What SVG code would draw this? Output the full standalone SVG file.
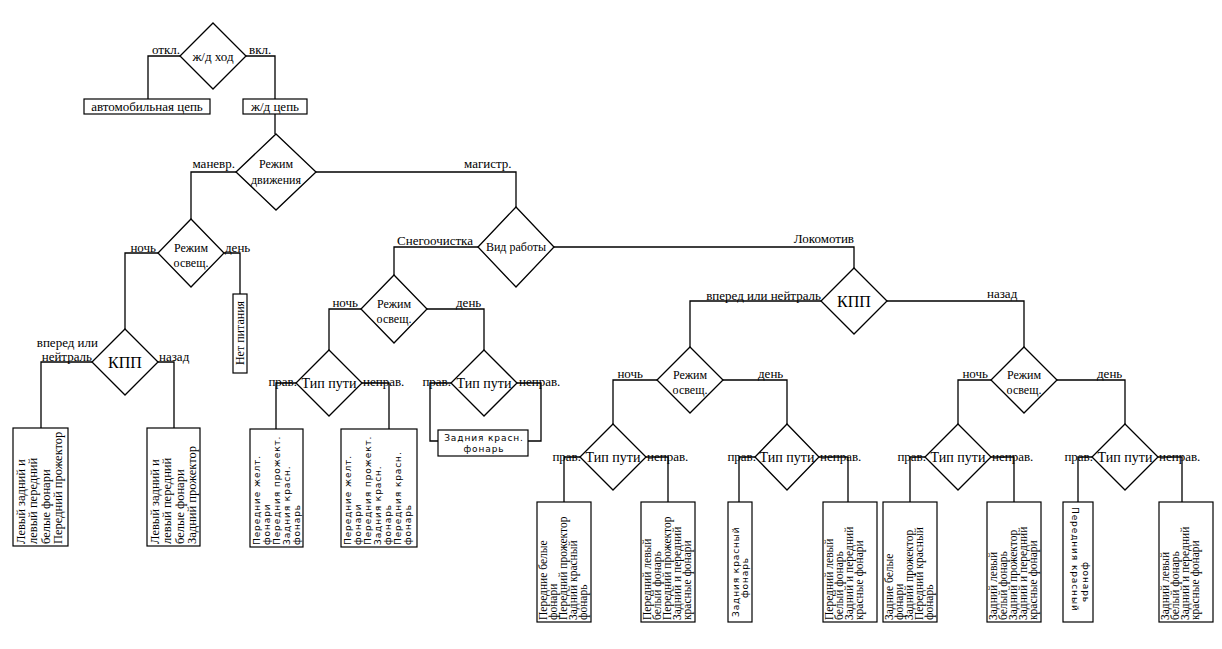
<svg xmlns="http://www.w3.org/2000/svg" width="1222" height="649" viewBox="0 0 1222 649">
<style>
.d{fill:#fff;stroke:#000;stroke-width:1.3}
.b{fill:#fff;stroke:#000;stroke-width:1.2}
.c{fill:none;stroke:#000;stroke-width:1.3}
.t{font-family:"Liberation Serif",serif;font-size:13px;fill:#000}
.n{font-family:"Liberation Serif",serif;font-size:12px;fill:#000;text-anchor:middle}
.k{font-family:"Liberation Serif",serif;font-size:16px;fill:#000;text-anchor:middle}
.p{font-family:"Liberation Serif",serif;font-size:14px;fill:#000;text-anchor:middle}
.r{font-family:"Liberation Serif",serif;font-size:11.5px;fill:#000}
.rl{font-family:"Liberation Serif",serif;font-size:12.5px;fill:#000}
.s{font-family:"DejaVu Sans",sans-serif;font-size:9px;letter-spacing:0.9px;fill:#000}
.e{text-anchor:end}
.m{text-anchor:middle}
</style>
<rect width="1222" height="649" fill="#fff"/>
<g id="connectors">
<path class="c" d="M180,56H148V99"/>
<path class="c" d="M246,56H275V99"/>
<path class="c" d="M275,114V134"/>
<path class="c" d="M236,172H191V219"/>
<path class="c" d="M316,172H516V207"/>
<path class="c" d="M158,253H125V329"/>
<path class="c" d="M224,253H240V294"/>
<path class="c" d="M92,362H41V428"/>
<path class="c" d="M158,362H174V428"/>
<path class="c" d="M478,247H394V275"/>
<path class="c" d="M554,247H854V268"/>
<path class="c" d="M361,309H329V350"/>
<path class="c" d="M427,309H484V350"/>
<path class="c" d="M296,383H276V429"/>
<path class="c" d="M362,383H389V429"/>
<path class="c" d="M451,383H430V441H438"/>
<path class="c" d="M517,383H541V441H528"/>
<path class="c" d="M821,301H690V347"/>
<path class="c" d="M887,301H1024V347"/>
<path class="c" d="M657,380H613V424"/>
<path class="c" d="M723,380H787V424"/>
<path class="c" d="M580,457H564V502"/>
<path class="c" d="M646,457H668V502"/>
<path class="c" d="M755,457H739V502"/>
<path class="c" d="M819,457H848V502"/>
<path class="c" d="M991,380H958V424"/>
<path class="c" d="M1057,380H1125V424"/>
<path class="c" d="M925,457H910V502"/>
<path class="c" d="M991,457H1014V502"/>
<path class="c" d="M1092,457H1078V502"/>
<path class="c" d="M1158,457H1182V502"/>
</g>
<g id="edge-labels">
<text class="t e" x="180" y="54">откл.</text>
<text class="t" x="249" y="54">вкл.</text>
<text class="t e" x="235" y="168">маневр.</text>
<text class="t" x="464" y="168">магистр.</text>
<text class="t e" x="156" y="252">ночь</text>
<text class="t" x="225" y="252">день</text>
<text class="t e" x="98" y="347">вперед или</text>
<text class="t e" x="92" y="361">нейтраль</text>
<text class="t" x="159" y="361">назад</text>
<text class="t e" x="473" y="245">Снегоочистка</text>
<text class="t e" x="854" y="243">Локомотив</text>
<text class="t e" x="821" y="300">вперед или нейтраль</text>
<text class="t" x="987" y="298">назад</text>
<text class="t e" x="358" y="307">ночь</text>
<text class="t" x="456" y="307">день</text>
<text class="t e" x="297" y="386">прав.</text>
<text class="t" x="363" y="386">неправ.</text>
<text class="t e" x="451" y="386">прав.</text>
<text class="t" x="519" y="386">неправ.</text>
<text class="t e" x="643" y="378">ночь</text>
<text class="t" x="758" y="378">день</text>
<text class="t e" x="581" y="461">прав.</text>
<text class="t" x="647" y="461">неправ.</text>
<text class="t e" x="756" y="461">прав.</text>
<text class="t" x="820" y="461">неправ.</text>
<text class="t e" x="988" y="378">ночь</text>
<text class="t" x="1097" y="378">день</text>
<text class="t e" x="926" y="461">прав.</text>
<text class="t" x="992" y="461">неправ.</text>
<text class="t e" x="1093" y="461">прав.</text>
<text class="t" x="1159" y="461">неправ.</text>
</g>
<g id="zhd-hod"><polygon class="d" points="213,23 246,56 213,89 180,56"/><text class="t m" x="213" y="61">ж/д ход</text></g>
<g id="auto-cep"><rect class="b" x="84" y="99" width="126" height="15"/><text class="t m" x="147" y="111">автомобильная цепь</text></g>
<g id="zhd-cep"><rect class="b" x="243" y="99" width="64" height="15"/><text class="t m" x="275" y="111">ж/д цепь</text></g>
<g id="rezhim-dvizh"><polygon class="d" points="276,134 316,172 276,210 236,172"/><text class="n" x="276" y="168">Режим</text><text class="n" x="276" y="184">движения</text></g>
<g id="osv-man"><polygon class="d" points="191,219 224,253 191,287 158,253"/><text class="n" x="191" y="252">Режим</text><text class="n" x="191" y="267">освещ.</text></g>
<g id="net-pit"><rect class="b" x="233" y="294" width="14" height="79"/><text class="n" transform="translate(244,333) rotate(-90)">Нет питания</text></g>
<g id="kpp-man"><polygon class="d" points="125,329 158,362 125,395 92,362"/><text class="k" x="125" y="368">КПП</text></g>
<g id="box-man-fwd"><rect class="b" x="13" y="428" width="55" height="118"/><text class="rl" transform="translate(25,544) rotate(-90)"><tspan x="0" y="0">Левый задний и</tspan><tspan x="0" y="12.3">левый передний</tspan><tspan x="0" y="24.6">белые фонари</tspan><tspan x="0" y="36.9">Передний прожектор</tspan></text></g>
<g id="box-man-back"><rect class="b" x="147" y="428" width="53" height="118"/><text class="rl" transform="translate(159,544) rotate(-90)"><tspan x="0" y="0">Левый задний и</tspan><tspan x="0" y="12.3">левый передний</tspan><tspan x="0" y="24.6">белые фонари</tspan><tspan x="0" y="36.9">Задний прожектор</tspan></text></g>
<g id="vid-raboty"><polygon class="d" points="516,207 554,247 516,287 478,247"/><text class="n" x="516" y="251">Вид работы</text></g>
<g id="osv-snow"><polygon class="d" points="394,275 427,309 394,343 361,309"/><text class="n" x="394" y="308">Режим</text><text class="n" x="394" y="323">освещ.</text></g>
<g id="tip-snow-n"><polygon class="d" points="329,350 362,383 329,416 296,383"/><text class="p" x="329" y="388">Тип пути</text></g>
<g id="tip-snow-d"><polygon class="d" points="484,350 517,383 484,416 451,383"/><text class="p" x="484" y="388">Тип пути</text></g>
<g id="box-snow-n-prav"><rect class="b" x="250" y="429" width="53" height="118"/><text class="s" transform="translate(260,545) rotate(-90)"><tspan x="0" y="0">Передние  желт.</tspan><tspan x="0" y="10">фонари</tspan><tspan x="0" y="20">Передния  прожект.</tspan><tspan x="0" y="30">Задния  красн.</tspan><tspan x="0" y="40">фонарь</tspan></text></g>
<g id="box-snow-n-neprav"><rect class="b" x="341" y="429" width="76" height="118"/><text class="s" transform="translate(351,545) rotate(-90)"><tspan x="0" y="0">Передние  желт.</tspan><tspan x="0" y="10">фонари</tspan><tspan x="0" y="20">Передния  прожект.</tspan><tspan x="0" y="30">Задния  красн.</tspan><tspan x="0" y="40">фонарь</tspan><tspan x="0" y="50">Передния  красн.</tspan><tspan x="0" y="60">фонарь</tspan></text></g>
<g id="box-snow-d"><rect class="b" x="438" y="430" width="90" height="26"/><text class="s m" x="484" y="441">Задния  красн.</text><text class="s m" x="484" y="452">фонарь</text></g>
<g id="kpp-loco"><polygon class="d" points="854,268 887,301 854,334 821,301"/><text class="k" x="854" y="307">КПП</text></g>
<g id="osv-fwd"><polygon class="d" points="690,347 723,380 690,413 657,380"/><text class="n" x="690" y="379">Режим</text><text class="n" x="690" y="394">освещ.</text></g>
<g id="tip-fwd-n"><polygon class="d" points="613,424 646,457 613,490 580,457"/><text class="p" x="613" y="462">Тип пути</text></g>
<g id="tip-fwd-d"><polygon class="d" points="787,424 819,457 787,490 755,457"/><text class="p" x="787" y="462">Тип пути</text></g>
<g id="osv-back"><polygon class="d" points="1024,347 1057,380 1024,413 991,380"/><text class="n" x="1024" y="379">Режим</text><text class="n" x="1024" y="394">освещ.</text></g>
<g id="tip-back-n"><polygon class="d" points="958,424 991,457 958,490 925,457"/><text class="p" x="958" y="462">Тип пути</text></g>
<g id="tip-back-d"><polygon class="d" points="1125,424 1158,457 1125,490 1092,457"/><text class="p" x="1125" y="462">Тип пути</text></g>
<g id="box-fwd-n-prav"><rect class="b" x="537" y="502" width="54" height="120"/><text class="r" transform="translate(547,620) rotate(-90)"><tspan x="0" y="0">Передние белые</tspan><tspan x="0" y="10">фонари</tspan><tspan x="0" y="20">Передний прожектор</tspan><tspan x="0" y="30">Задний красный</tspan><tspan x="0" y="40">фонарь</tspan></text></g>
<g id="box-fwd-n-neprav"><rect class="b" x="641" y="502" width="54" height="120"/><text class="r" transform="translate(651,620) rotate(-90)"><tspan x="0" y="0">Передний левый</tspan><tspan x="0" y="10">белый фонарь</tspan><tspan x="0" y="20">Передний прожектор</tspan><tspan x="0" y="30">Задний и передний</tspan><tspan x="0" y="40">красные фонари</tspan></text></g>
<g id="box-fwd-d-prav"><rect class="b" x="728" y="502" width="24" height="120"/><text class="s" transform="translate(739,617) rotate(-90)"><tspan x="0" y="0">Задния  красный</tspan><tspan x="19" y="9">фонарь</tspan></text></g>
<g id="box-fwd-d-neprav"><rect class="b" x="823" y="502" width="54" height="120"/><text class="r" transform="translate(833,620) rotate(-90)"><tspan x="0" y="0">Передний левый</tspan><tspan x="0" y="10">белый фонарь</tspan><tspan x="0" y="20">Задний и передний</tspan><tspan x="0" y="30">красные фонари</tspan></text></g>
<g id="box-back-n-prav"><rect class="b" x="883" y="502" width="54" height="120"/><text class="r" transform="translate(893,620) rotate(-90)"><tspan x="0" y="0">Задние белые</tspan><tspan x="0" y="10">фонари</tspan><tspan x="0" y="20">Задний прожектор</tspan><tspan x="0" y="30">Передний красный</tspan><tspan x="0" y="40">фонарь</tspan></text></g>
<g id="box-back-n-neprav"><rect class="b" x="987" y="502" width="54" height="120"/><text class="r" transform="translate(997,620) rotate(-90)"><tspan x="0" y="0">Задний левый</tspan><tspan x="0" y="10">белый фонарь</tspan><tspan x="0" y="20">Задний прожектор</tspan><tspan x="0" y="30">Задний и передний</tspan><tspan x="0" y="40">красные фонари</tspan></text></g>
<g id="box-back-d-prav"><rect class="b" x="1063" y="502" width="30" height="120"/><text class="s" transform="translate(1072,507) rotate(90)"><tspan x="0" y="0">Передния  красный</tspan><tspan x="55" y="-11">фонарь</tspan></text></g>
<g id="box-back-d-neprav"><rect class="b" x="1159" y="502" width="54" height="120"/><text class="r" transform="translate(1169,620) rotate(-90)"><tspan x="0" y="0">Задний левый</tspan><tspan x="0" y="10">белый фонарь</tspan><tspan x="0" y="20">Задний и передний</tspan><tspan x="0" y="30">красные фонари</tspan></text></g>
</svg>
